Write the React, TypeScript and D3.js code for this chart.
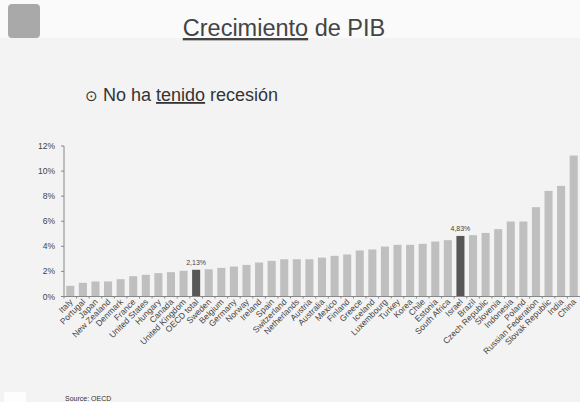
import React from "react";
import * as d3 from "d3";

const countries = [
  "Italy", "Portugal", "Japan", "New Zealand", "Denmark", "France", "United States", "Hungary",
  "Canada", "United Kingdom", "OECD total", "Sweden", "Belgium", "Germany", "Norway", "Ireland",
  "Spain", "Switzerland", "Netherlands", "Austria", "Australia", "Mexico", "Finland", "Greece",
  "Iceland", "Luxembourg", "Turkey", "Korea", "Chile", "Estonia", "South Africa", "Israel",
  "Brazil", "Czech Republic", "Slovenia", "Indonesia", "Poland", "Russian Federation",
  "Slovak Republic", "India", "China",
];
const growth = [
  0.85, 1.09, 1.2, 1.2, 1.38, 1.62, 1.73, 1.86, 1.94, 2.05, 2.13, 2.17, 2.28, 2.39, 2.52, 2.71,
  2.84, 2.97, 2.97, 2.97, 3.1, 3.24, 3.35, 3.67, 3.75, 3.98, 4.12, 4.12, 4.2, 4.38, 4.49, 4.83,
  4.89, 5.07, 5.37, 5.98, 5.98, 7.12, 8.42, 8.82, 11.24,
];
const highlighted = ["OECD total", "Israel"];
const highlightLabels = ["2,13%", "4,83%"];
const yTicks = [0, 2, 4, 6, 8, 10, 12];

export default function App() {
  const W = 580, H = 402;
  const x = d3.scaleBand<string>().domain(countries).range([64, 580]).paddingInner(0.36).paddingOuter(0.18);
  const y = d3.scaleLinear().domain([0, 12]).range([296.5, 146]);
  const font = "'Liberation Sans', Arial, sans-serif";
  return (
    <svg width={W} height={H} style={{ position: "absolute", left: 0, top: 0 }} fontFamily={font}>
      <rect x={0} y={0} width={W} height={H} fill="#f3f3f3" />
      <rect x={0} y={0} width={W} height={38} fill="#fafafa" />
      <rect x={8} y={4} width={32} height={34} rx={4} fill="#a9a9a9" />
      <text x={284} y={36} textAnchor="middle" fontSize={23.5} fill="#444">
        <tspan textDecoration="underline">Crecimiento</tspan> de PIB
      </text>
      <text x={85} y={101} fontSize={18} fill="#333">
        <tspan fontSize={15}>⊙</tspan> No ha <tspan textDecoration="underline">tenido</tspan> recesión
      </text>
      {/* y axis */}
      <line x1={64} x2={64} y1={y(12)} y2={y(0)} stroke="#888" strokeWidth={1} />
      {yTicks.map((t) => (
        <g key={t}>
          <line x1={61} x2={64} y1={y(t)} y2={y(t)} stroke="#888" />
          <text x={55} y={y(t) + 3} textAnchor="end" fontSize={8.5} fill="#444">
            {t}%
          </text>
        </g>
      ))}
      {/* bars */}
      {countries.map((c, i) => {
        const hi = highlighted.indexOf(c);
        return (
          <g key={c}>
            <rect
              x={x(c)}
              y={y(growth[i])}
              width={x.bandwidth()}
              height={y(0) - y(growth[i])}
              fill={hi >= 0 ? "#575757" : "#bfbfbf"}
            />
            {hi >= 0 && (
              <text x={(x(c) as number) + x.bandwidth() / 2} y={y(growth[i]) - 5} textAnchor="middle" fontSize={7} fill="#444">
                {highlightLabels[hi]}
              </text>
            )}
          </g>
        );
      })}
      <line x1={64} x2={580} y1={y(0)} y2={y(0)} stroke="#888" strokeWidth={1} />
      {countries.map((c) => {
        const cx = (x(c) as number) - x.step() * x.paddingInner() / 2;
        return <line key={"t" + c} x1={cx} x2={cx} y1={y(0)} y2={y(0) + 2} stroke="#888" />;
      })}
      {/* x labels */}
      {countries.map((c) => {
        const cx = (x(c) as number) + x.bandwidth() / 2 + 3;
        const ty = y(0) + 6;
        return (
          <text key={"l" + c} transform={`translate(${cx},${ty}) rotate(-45)`} textAnchor="end" fontSize={8.5} fill="#444">
            {c}
          </text>
        );
      })}
      <rect x={4} y={392} width={22} height={10} fill="#fdfdfd" />
      <text x={65} y={401} fontSize={7} fill="#333">Source: OECD</text>
    </svg>
  );
}
